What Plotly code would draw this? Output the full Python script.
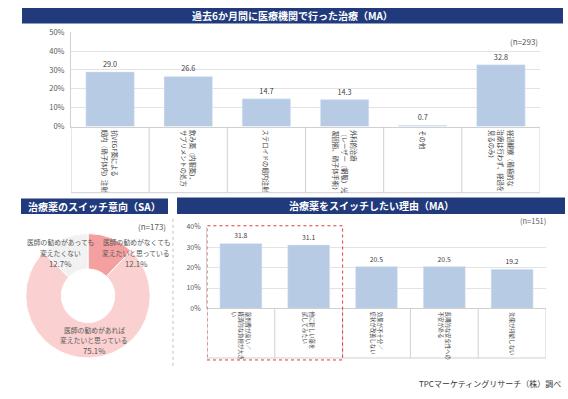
import plotly.graph_objects as go

W, H = 568, 399
def px(x): return x / W
def py(y): return 1 - y / H

FONT = "Noto Sans CJK JP"

# ---- data ----
top_title = "過去6か月間に医療機関で行った治療（MA）"
top_n = "(n=293)"
top_categories = [
    "抗VEGF薬による<br>眼内（硝子体内）注射",
    "飲み薬（内服薬）、<br>サプリメントの処方",
    "ステロイドの眼内注射",
    "外科的治療<br>（レーザー（網膜）光<br>凝固術、硝子体手術）",
    "その他",
    "経過観察（積極的な<br>治療は行わず、経過を<br>見るのみ）",
]
top_values = [29.0, 26.6, 14.7, 14.3, 0.7, 32.8]
top_ticks = [0, 10, 20, 30, 40, 50]

switch_title = "治療薬のスイッチ意向（SA）"
switch_n = "(n=173)"
switch_labels = [
    "医師の勧めがなくても<br>変えたいと思っている",
    "医師の勧めがあれば<br>変えたいと思っている",
    "医師の勧めがあっても<br>変えたくない",
]
switch_values = [12.1, 75.1, 12.7]
switch_colors = ["#f4a0a0", "#fad0d0", "#f2f2f2"]

reason_title = "治療薬をスイッチしたい理由（MA）"
reason_n = "(n=151)"
reason_categories = [
    "薬剤費が高い／<br>経済的な負担が大き<br>い",
    "他に新しい薬を<br>試してみたい",
    "効果が不十分／<br>症状が改善しない",
    "長期的な安全性への<br>不安がある",
    "効果が持続しない",
]
reason_values = [31.8, 31.1, 20.5, 20.5, 19.2]
reason_ticks = [0, 10, 20, 30, 40]

source_text = "TPCマーケティングリサーチ（株）調べ"

BAR = "#b8cbe4"
NAVY = "#203a7c"
GRID = "#e3e3e3"
LINE = "#d0d0d0"
TXT = "#404040"

fig = go.Figure()

fig.add_trace(go.Bar(
    x=top_categories, y=top_values, marker_color=BAR, width=0.62,
    text=[f"{v:.1f}" for v in top_values], textposition="outside",
    textfont=dict(size=7.3, color=TXT, family=FONT), cliponaxis=False,
    xaxis="x", yaxis="y", showlegend=False,
))

fig.add_trace(go.Bar(
    x=reason_categories, y=reason_values, marker_color=BAR, width=0.62,
    text=[f"{v:.1f}" for v in reason_values], textposition="outside",
    textfont=dict(size=6.8, color=TXT, family=FONT), cliponaxis=False,
    xaxis="x2", yaxis="y2", showlegend=False,
))

cx, cy, r = 88, 298, 64
fig.add_trace(go.Pie(
    labels=switch_labels, values=switch_values, sort=False,
    direction="clockwise", rotation=0, hole=0.43,
    marker=dict(colors=switch_colors, line=dict(color="white", width=1)),
    textinfo="none", hoverinfo="label+percent", showlegend=False,
    domain=dict(x=[px(cx - r), px(cx + r)], y=[py(cy + r), py(cy - r)]),
))

shapes = []
annotations = []

# banners
def banner(x0, y0, x1, y1, text):
    shapes.append(dict(type="rect", xref="paper", yref="paper",
                       x0=px(x0), x1=px(x1), y0=py(y1), y1=py(y0),
                       fillcolor=NAVY, line=dict(width=0), layer="below"))
    annotations.append(dict(xref="paper", yref="paper", x=px((x0 + x1) / 2), y=py((y0 + y1) / 2),
                            text=f"<b>{text}</b>", showarrow=False,
                            font=dict(size=10, color="white", family=FONT),
                            xanchor="center", yanchor="middle"))

banner(22, 2, 563, 18, top_title)
banner(21, 198, 168, 214, switch_title)
banner(177, 197, 565, 214, reason_title)


def vertical_label(xref, cat, ytop, size, spacing):
    lines = cat.split("<br>")
    n = len(lines)
    for k, line in enumerate(lines):
        annotations.append(dict(xref=xref, yref="paper", x=cat, y=py(ytop), text=line,
                                textangle=90, showarrow=False,
                                xanchor="center", yanchor="top",
                                xshift=((n - 1) / 2 - k) * spacing,
                                font=dict(size=size, color=TXT, family=FONT)))


# top table
t_top, t_bot = 124, 192
shapes.append(dict(type="line", xref="x", yref="paper", x0=-0.5, x1=len(top_categories) - 0.5,
                   y0=py(t_bot), y1=py(t_bot), line=dict(color=LINE, width=1)))
for i in range(len(top_categories) + 1):
    shapes.append(dict(type="line", xref="x", yref="paper", x0=i - 0.5, x1=i - 0.5,
                       y0=py(t_bot), y1=py(t_top), line=dict(color=LINE, width=1)))
for c in top_categories:
    vertical_label("x", c, t_top + 1.5, 6.3, 9.5)

# bottom table
b_top, b_bot = 311, 362
shapes.append(dict(type="line", xref="x2", yref="paper", x0=-0.5, x1=len(reason_categories) - 0.5,
                   y0=py(b_bot), y1=py(b_bot), line=dict(color=LINE, width=1)))
for i in range(len(reason_categories) + 1):
    shapes.append(dict(type="line", xref="x2", yref="paper", x0=i - 0.5, x1=i - 0.5,
                       y0=py(b_bot), y1=py(b_top), line=dict(color=LINE, width=1)))
for c in reason_categories:
    vertical_label("x2", c, b_top + 1.5, 5.4, 7.2)

# red dashed highlight
shapes.append(dict(type="rect", xref="x2", yref="paper", x0=-0.5, x1=1.5,
                   y0=py(364), y1=py(226), line=dict(color="#e03a3a", width=1, dash="dot")))

# dotted separator
shapes.append(dict(type="line", xref="paper", yref="paper", x0=px(173), x1=px(173),
                   y0=py(370), y1=py(216), line=dict(color="#c0c0c0", width=1, dash="dot")))

# n labels
annotations.append(dict(xref="paper", yref="paper", x=px(540), y=py(37), text=top_n, showarrow=False,
                        xanchor="right", yanchor="middle", font=dict(size=8, color="#595959", family=FONT)))
annotations.append(dict(xref="paper", yref="paper", x=px(548), y=py(221), text=reason_n, showarrow=False,
                        xanchor="right", yanchor="middle", font=dict(size=7.5, color="#595959", family=FONT)))
annotations.append(dict(xref="paper", yref="paper", x=px(168), y=py(227), text=switch_n, showarrow=False,
                        xanchor="right", yanchor="middle", font=dict(size=8, color="#595959", family=FONT)))

# donut labels (two text lines + percentage line)
pie_pos = [(136, 243), (94, 333), (60, 243)]
for lab, v, (lx, ly) in zip(switch_labels, switch_values, pie_pos):
    for k, line in enumerate(lab.split("<br>")):
        annotations.append(dict(xref="paper", yref="paper", x=px(lx), y=py(ly + 10.5 * k),
                                text=line, showarrow=False, xanchor="center", yanchor="middle",
                                font=dict(size=6.8, color="#595959", family=FONT)))
    annotations.append(dict(xref="paper", yref="paper", x=px(lx), y=py(ly + 21.5),
                            text=f"{v:.1f}%", showarrow=False, xanchor="center", yanchor="middle",
                            font=dict(size=7.8, color="#595959", family=FONT)))

# source
annotations.append(dict(xref="paper", yref="paper", x=px(563), y=py(388), text=source_text,
                        showarrow=False, xanchor="right", yanchor="middle",
                        font=dict(size=8, color="#333333", family=FONT)))

fig.update_layout(
    width=W, height=H, margin=dict(l=0, r=0, t=0, b=0),
    paper_bgcolor="white", plot_bgcolor="white",
    font=dict(family=FONT, color=TXT),
    bargap=0.38,
    xaxis=dict(domain=[px(71), px(540)], range=[-0.5, 5.5], showticklabels=False,
               showline=True, linecolor=LINE, showgrid=False),
    yaxis=dict(domain=[py(124), py(27)], range=[0, 50], tickvals=top_ticks,
               ticktext=[f"{t}%" for t in top_ticks], showgrid=True, gridcolor=GRID,
               showline=True, linecolor=LINE, zeroline=False, ticklabelstandoff=4,
               tickfont=dict(size=7.5, color="#595959")),
    xaxis2=dict(domain=[px(207), px(546)], range=[-0.5, 4.5], showticklabels=False,
                showline=True, linecolor=LINE, showgrid=False, anchor="y2"),
    yaxis2=dict(domain=[py(311), py(227)], range=[0, 40], tickvals=reason_ticks,
                ticktext=[f"{t}%" for t in reason_ticks], showgrid=True, gridcolor=GRID,
                showline=True, linecolor=LINE, zeroline=False, ticklabelstandoff=4,
                tickfont=dict(size=7, color="#595959"), anchor="x2"),
    shapes=shapes, annotations=annotations,
)

fig.write_html(
    "out.html",
    config={"displayModeBar": False},
    post_script="document.body.style.margin='0';document.body.style.overflow='hidden';",
)
